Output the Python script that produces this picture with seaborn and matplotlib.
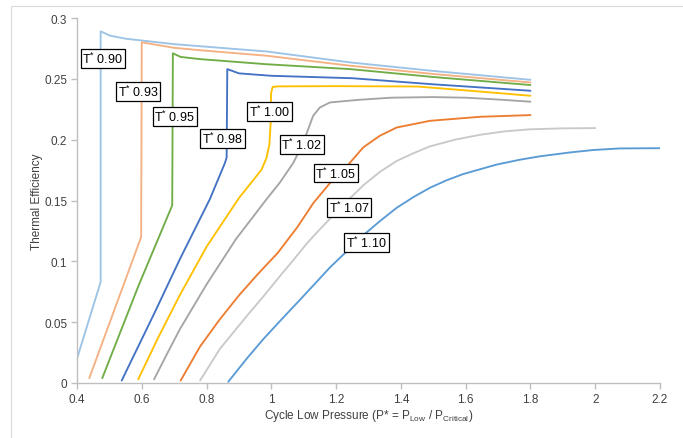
import matplotlib
matplotlib.use("Agg")
import matplotlib.pyplot as plt
from matplotlib.patches import Rectangle
import numpy as np
import pandas as pd
import seaborn as sns

# Reduced low pressure P* and thermal efficiency for each reduced temperature T*
p_090 = [0.400, 0.473, 0.473, 0.502, 0.550, 0.600, 0.700, 0.780, 0.985, 1.243, 1.500, 1.800]
e_090 = [0.020, 0.083, 0.289, 0.2855, 0.283, 0.2815, 0.2785, 0.2768, 0.2725, 0.2635, 0.2565, 0.2492]

p_093 = [0.438, 0.598, 0.600, 0.700, 0.780, 0.985, 1.243, 1.500, 1.800]
e_093 = [0.004, 0.120, 0.280, 0.2755, 0.2735, 0.269, 0.2608, 0.254, 0.247]

p_095 = [0.478, 0.590, 0.694, 0.696, 0.720, 0.780, 0.985, 1.243, 1.500, 1.800]
e_095 = [0.004, 0.080, 0.146, 0.271, 0.268, 0.2662, 0.262, 0.258, 0.2515, 0.2449]

p_098 = [0.538, 0.640, 0.718, 0.810, 0.857, 0.862, 0.864, 0.900, 1.000, 1.250, 1.500, 1.800]
e_098 = [0.002, 0.058, 0.102, 0.151, 0.181, 0.1855, 0.258, 0.2545, 0.2525, 0.2505, 0.2455, 0.2402]

p_100 = [0.589, 0.650, 0.718, 0.800, 0.900, 0.945, 0.970, 0.985, 0.994, 0.998, 0.999,
         1.004, 1.020, 1.200, 1.450, 1.600, 1.800]
e_100 = [0.003, 0.037, 0.0725, 0.112, 0.152, 0.167, 0.1755, 0.185, 0.196, 0.214, 0.238,
         0.2433, 0.2438, 0.2440, 0.2437, 0.2405, 0.2361]

p_102 = [0.638, 0.680, 0.718, 0.800, 0.890, 0.985, 1.027, 1.068, 1.094, 1.114, 1.129,
         1.150, 1.181, 1.273, 1.370, 1.500, 1.600, 1.700, 1.800]
e_102 = [0.003, 0.025, 0.0444, 0.081, 0.118, 0.151, 0.165, 0.181, 0.195, 0.2087, 0.2196,
         0.2265, 0.2306, 0.2328, 0.2345, 0.2350, 0.2345, 0.233, 0.2312]

p_105 = [0.720, 0.780, 0.840, 0.900, 0.960, 1.020, 1.080, 1.130, 1.180, 1.236, 1.284,
         1.335, 1.387, 1.490, 1.644, 1.800]
e_105 = [0.002, 0.030, 0.052, 0.072, 0.090, 0.107, 0.128, 0.148, 0.164, 0.179, 0.1937,
         0.2032, 0.210, 0.2155, 0.2188, 0.2202]

p_107 = [0.780, 0.841, 0.924, 0.975, 1.027, 1.068, 1.109, 1.145, 1.181, 1.232, 1.284,
         1.335, 1.387, 1.440, 1.490, 1.567, 1.644, 1.720, 1.798, 1.900, 2.000]
e_107 = [0.002, 0.028, 0.055, 0.071, 0.088, 0.101, 0.1145, 0.125, 0.135, 0.149, 0.1625,
         0.1735, 0.1825, 0.189, 0.1945, 0.200, 0.2040, 0.2068, 0.2085, 0.2093, 0.2095]

p_110 = [0.867, 0.924, 0.975, 1.027, 1.080, 1.129, 1.181, 1.232, 1.284, 1.335, 1.387,
         1.440, 1.490, 1.540, 1.592, 1.695, 1.767, 1.829, 1.922, 1.994, 2.076, 2.200]
e_110 = [0.001, 0.020, 0.036, 0.051, 0.066, 0.080, 0.095, 0.108, 0.1215, 0.133, 0.1440,
         0.153, 0.1605, 0.1665, 0.1717, 0.1795, 0.1835, 0.1863, 0.1895, 0.1915, 0.1928, 0.193]

t_labels = ["0.90", "0.93", "0.95", "0.98", "1.00", "1.02", "1.05", "1.07", "1.10"]
pressures = [p_090, p_093, p_095, p_098, p_100, p_102, p_105, p_107, p_110]
efficiencies = [e_090, e_093, e_095, e_098, e_100, e_102, e_105, e_107, e_110]

# Where each T* tag sits (P*, efficiency)
tag_p = [0.480, 0.588, 0.702, 0.849, 0.994, 1.094, 1.199, 1.240, 1.294]
tag_e = [0.267, 0.2395, 0.219, 0.2008, 0.223, 0.1964, 0.1726, 0.1446, 0.1153]

colors = ["#9DC3E6", "#F4B183", "#70AD47", "#4472C4", "#FFC000",
          "#A5A5A5", "#ED7D31", "#C9C9C9", "#5B9BD5"]

rows = []
for t, ps, es in zip(t_labels, pressures, efficiencies):
    for i, (p, e) in enumerate(zip(ps, es)):
        rows.append({"T": t, "order": i, "P": p, "eff": e})
df = pd.DataFrame(rows)

sns.set_theme(style="white")
plt.rcParams["font.family"] = ["Liberation Sans", "DejaVu Sans"]
plt.rcParams["mathtext.fontset"] = "custom"
plt.rcParams["mathtext.rm"] = "Liberation Sans"
plt.rcParams["mathtext.it"] = "Liberation Sans:italic"
plt.rcParams["mathtext.bf"] = "Liberation Sans:bold"

text_col = "#404040"
axis_col = "#BFBFBF"

fig = plt.figure(figsize=(6.83, 4.39), dpi=100)
ax = fig.add_axes([77 / 683, 1 - 384 / 439, (660 - 77) / 683, (384 - 19) / 439])

sns.lineplot(data=df, x="P", y="eff", hue="T", hue_order=t_labels,
             palette=dict(zip(t_labels, colors)), estimator=None, sort=False,
             units="T", legend=False, linewidth=1.35, ax=ax)

for t, x, y in zip(t_labels, tag_p, tag_e):
    ax.text(x, y, "T$^{*}$ " + t, ha="center", va="center", fontsize=9,
            color="#000000",
            bbox=dict(boxstyle="square,pad=0.15", facecolor="white",
                      edgecolor="#000000", linewidth=0.9), zorder=5)

ax.set_xlim(0.4, 2.2)
ax.set_ylim(0, 0.3)
ax.set_xticks(np.arange(0.4, 2.21, 0.2))
ax.set_xticklabels(["0.4", "0.6", "0.8", "1", "1.2", "1.4", "1.6", "1.8", "2", "2.2"])
ax.set_yticks(np.arange(0, 0.301, 0.05))
ax.set_yticklabels(["0", "0.05", "0.1", "0.15", "0.2", "0.25", "0.3"])

for side in ["top", "right"]:
    ax.spines[side].set_visible(False)
for side in ["left", "bottom"]:
    ax.spines[side].set_color(axis_col)
    ax.spines[side].set_linewidth(1.0)
ax.tick_params(axis="both", which="major", direction="out", length=4, width=1.0,
               color=axis_col, labelcolor=text_col, labelsize=8.5, pad=3)
ax.tick_params(left=True, bottom=True)

ax.set_xlabel("Cycle Low Pressure (P* = P$_{\\mathrm{Low}}$ / P$_{\\mathrm{Critical}}$)",
              fontsize=8.5, color=text_col, labelpad=1.5)
ax.set_ylabel("Thermal Efficiency", fontsize=8.5, color=text_col, labelpad=0.5)
ax.grid(False)

fig.add_artist(Rectangle((11 / 683, -0.1), 1.2, 1 - 7 / 439 + 0.1,
                         transform=fig.transFigure, fill=False,
                         edgecolor="#D9D9D9", linewidth=0.8))

fig.savefig("out.png", dpi=100)
